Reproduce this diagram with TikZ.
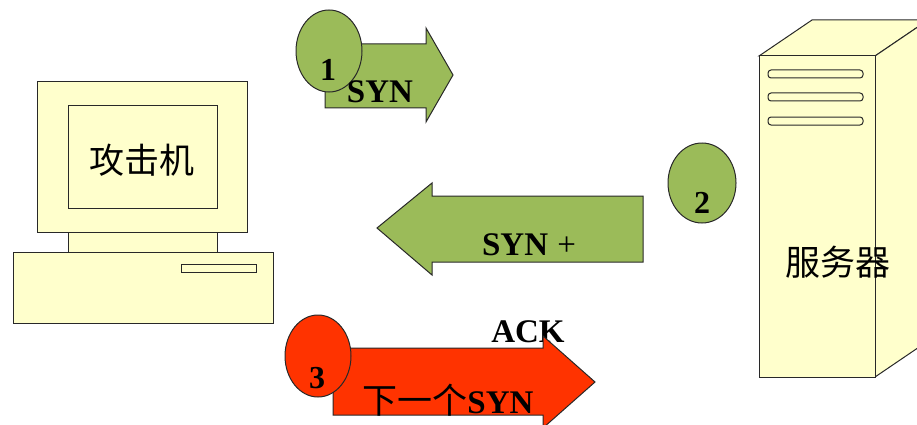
\documentclass[tikz,border=0pt]{standalone}
\usepackage{fontspec}
\setmainfont{Liberation Serif}
\newfontfamily\cjk{Noto Sans CJK SC}
\usetikzlibrary{shapes.geometric}
\definecolor{SynGreen}{RGB}{155,187,89}
\definecolor{AckRed}{RGB}{255,51,0}
\definecolor{HostCream}{RGB}{255,255,204}
\definecolor{EdgeGray}{RGB}{40,40,40}

\begin{document}
\begin{tikzpicture}[x=1pt,y=-1pt,line width=1pt]
  \useasboundingbox (0,0) rectangle (917,425);
  % attacking host
  \draw[EdgeGray,fill=HostCream] (37,82) rectangle (247,232);
  \draw[EdgeGray,fill=HostCream] (68,106) rectangle (217,208);
  \draw[EdgeGray,fill=HostCream] (68,232) rectangle (217,252);
  \draw[EdgeGray,fill=HostCream] (13,252) rectangle (273,323);
  \draw[EdgeGray,fill=HostCream] (181,264) rectangle (256,272);
  \node (atk) at (142,160) {\cjk\fontsize{35}{35}\selectfont 攻击机};
  % server tower
  \draw[EdgeGray,fill=HostCream] (759,56) -- (812,20) -- (928,20) -- (875,56) -- cycle;
  \draw[EdgeGray,fill=HostCream] (875,56) -- (928,20) -- (928,341) -- (875,377) -- cycle;
  \draw[EdgeGray,fill=HostCream] (759,56) rectangle (875,377);
  \foreach \y in {74,97,121}
    \draw[EdgeGray,fill=HostCream,rounded corners=3pt] (768,\y-4) rectangle (863,\y+4);
  \node (srv) at (838,262) {\cjk\fontsize{35}{35}\selectfont 服务器};
  % step 1: SYN
  \draw[EdgeGray,fill=SynGreen] (325,44) -- (426,44) -- (426,28) -- (453,75)
    -- (426,122) -- (426,108) -- (325,108) -- cycle;
  \node[ellipse,draw=EdgeGray,fill=SynGreen,minimum width=66,minimum height=82] (s1) at (329,51) {};
  \node (n1) at (328,70) {\fontsize{32}{32}\selectfont\bfseries 1};
  \node (syn1) at (380,92) {\fontsize{33}{33}\selectfont\bfseries SYN};
  % step 2: SYN + ACK
  \draw[EdgeGray,fill=SynGreen] (643,196) -- (432,196) -- (432,183) -- (377,228)
    -- (432,275) -- (432,262) -- (643,262) -- cycle;
  \node[ellipse,draw=EdgeGray,fill=SynGreen,minimum width=68,minimum height=80] (s2) at (702,183) {};
  \node (n2) at (702,203) {\fontsize{32}{32}\selectfont\bfseries 2};
  \node (syn2) at (529,245) {\fontsize{33}{33}\selectfont{\bfseries SYN}\;+};
  \node (ack) at (528,332) {\fontsize{33}{33}\selectfont\bfseries ACK};
  % step 3: next SYN
  \draw[EdgeGray,fill=AckRed] (333,348) -- (543,348) -- (543,336) -- (595,382)
    -- (543,428) -- (543,415) -- (333,415) -- cycle;
  \node[ellipse,draw=EdgeGray,fill=AckRed,minimum width=66,minimum height=82] (s3) at (318,356) {};
  \node (n3) at (317,378) {\fontsize{32}{32}\selectfont\bfseries 3};
  \node (syn3) at (448,400) {{\cjk\fontsize{35}{35}\selectfont 下一个}\fontsize{33}{33}\selectfont\bfseries SYN};
\end{tikzpicture}
\end{document}
